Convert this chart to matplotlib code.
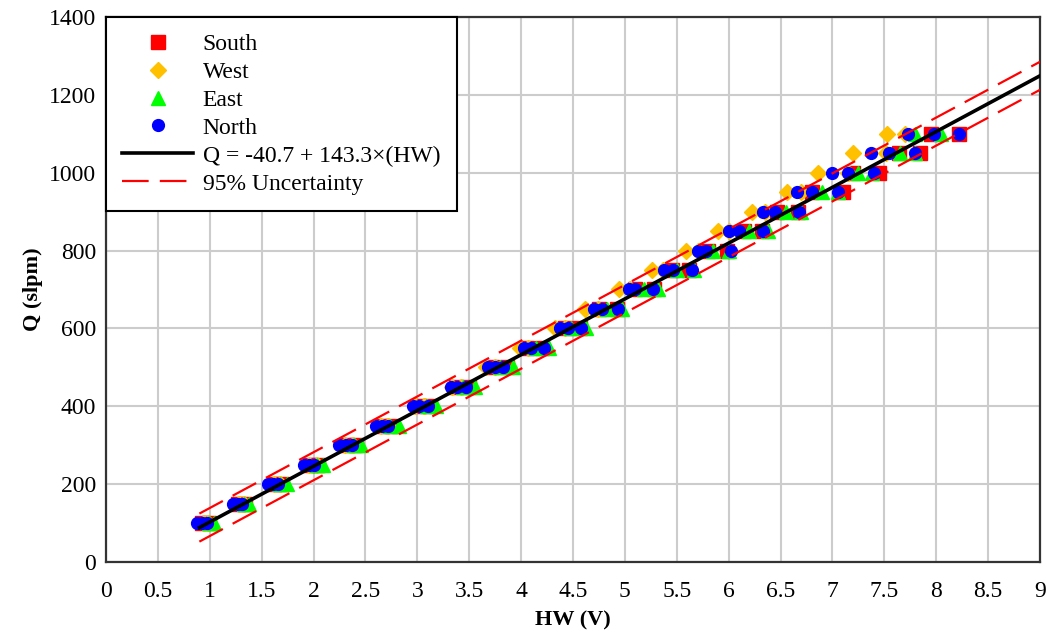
import numpy as np
import matplotlib.pyplot as plt

plt.rcParams['font.family'] = ['Liberation Serif', 'DejaVu Serif']

# flow levels (slpm)
q_levels = [100, 150, 200, 250, 300, 350, 400, 450, 500, 550, 600,
            650, 700, 750, 800, 850, 900, 950, 1000, 1050, 1100]

# hot-wire voltage readings per flow level, by location
hw_south = [[0.93, 0.99], [1.27, 1.34], [1.62, 1.70], [1.97, 2.04], [2.32, 2.41],
            [2.66, 2.76], [3.02, 3.12], [3.37, 3.50], [3.72, 3.86], [4.06, 4.20],
            [4.42, 4.57], [4.75, 4.92], [5.10, 5.28], [5.45, 5.62], [5.80, 5.98],
            [6.15, 6.32], [6.47, 6.67], [6.80, 7.10], [7.20, 7.45], [7.64, 7.84],
            [7.95, 8.22]]
hw_west = [[0.94, 0.98], [1.28, 1.33], [1.62, 1.68], [1.96, 2.03], [2.30, 2.38],
           [2.65, 2.72], [2.98, 3.06], [3.33, 3.42], [3.66, 3.75], [3.99, 4.07],
           [4.33, 4.42], [4.62, 4.74], [4.94, 5.05], [5.26, 5.37], [5.59, 5.70],
           [5.90, 6.00], [6.22, 6.35], [6.56, 6.70], [6.86, 7.15], [7.20, 7.52],
           [7.53, 7.70]]
hw_east = [[0.99, 1.04], [1.33, 1.38], [1.68, 1.74], [2.03, 2.09], [2.39, 2.46],
           [2.74, 2.82], [3.09, 3.18], [3.44, 3.56], [3.80, 3.92], [4.14, 4.27],
           [4.48, 4.63], [4.83, 4.97], [5.18, 5.32], [5.50, 5.67], [5.85, 6.00],
           [6.20, 6.38], [6.55, 6.70], [6.90, 7.05], [7.25, 7.38], [7.65, 7.80],
           [7.80, 8.05]]
hw_north = [[0.88, 0.93, 0.97], [1.22, 1.27, 1.31], [1.56, 1.61, 1.66], [1.91, 1.96, 2.00],
            [2.25, 2.31, 2.37], [2.60, 2.66, 2.72], [2.96, 3.02, 3.10], [3.32, 3.38, 3.47],
            [3.68, 3.75, 3.83], [4.03, 4.10, 4.22], [4.37, 4.45, 4.58], [4.70, 4.78, 4.93],
            [5.04, 5.10, 5.27], [5.38, 5.46, 5.65], [5.70, 5.78, 6.02], [6.00, 6.10, 6.33],
            [6.33, 6.45, 6.68], [6.66, 6.80, 7.05], [7.00, 7.15, 7.40], [7.37, 7.54, 7.80],
            [7.73, 7.98, 8.22]]

# fit and 95% band
b0, b1 = -40.7, 143.3
band = 36.0
hw_fit = np.array([0.9, 9.0])


def flatten(hw):
    xs, ys = [], []
    for q, vals in zip(q_levels, hw):
        for v in vals:
            xs.append(v)
            ys.append(q)
    return xs, ys


fig = plt.figure(figsize=(10.48, 6.34), dpi=100)
ax = fig.add_axes([0.1011, 0.1136, 0.8913, 0.8596])

x, y = flatten(hw_south)
ax.plot(x, y, 's', color='#ff0000', markersize=9.5, label='South', zorder=3)
x, y = flatten(hw_west)
ax.plot(x, y, 'D', color='#ffc000', markersize=8, label='West', zorder=3)
x, y = flatten(hw_east)
ax.plot(x, y, '^', color='#00ff00', markersize=9.5, label='East', zorder=3)
x, y = flatten(hw_north)
ax.plot(x, y, 'o', color='#0000ff', markersize=8.5, label='North', zorder=3)

q_fit = b0 + b1 * hw_fit
ax.plot(hw_fit, q_fit, color='black', lw=2.6, label='Q = -40.7 + 143.3\u00d7(HW)', zorder=4)
ax.plot(hw_fit, q_fit + band, color='#ff0000', lw=1.6, dashes=(12, 5),
        label='95% Uncertainty', zorder=4)
ax.plot(hw_fit, q_fit - band, color='#ff0000', lw=1.6, dashes=(12, 5), zorder=4)

ax.set_xlim(0, 9)
ax.set_ylim(0, 1400)
ax.set_xticks(np.arange(0, 9.01, 0.5))
ax.set_xticklabels(['0', '0.5', '1', '1.5', '2', '2.5', '3', '3.5', '4', '4.5',
                    '5', '5.5', '6', '6.5', '7', '7.5', '8', '8.5', '9'])
ax.set_yticks(np.arange(0, 1401, 200))
ax.tick_params(length=0, labelsize=17)
ax.tick_params(axis='x', pad=14)
ax.tick_params(axis='y', pad=7)
ax.grid(True, color='#cccccc', lw=1.5)
ax.set_axisbelow(True)
for s in ax.spines.values():
    s.set_color('#333333')
    s.set_linewidth(1.6)

ax.set_xlabel('HW (V)', fontsize=16, fontweight='bold', labelpad=6)
ax.set_ylabel('Q (slpm)', fontsize=16, fontweight='bold', labelpad=4)

leg = ax.legend(loc='upper left', bbox_to_anchor=(0, 1), borderaxespad=0,
                fontsize=17, fancybox=False, framealpha=1, edgecolor='black',
                handlelength=3.0, handletextpad=0.4, labelspacing=0.27,
                borderpad=0.7)
leg.get_frame().set_linewidth(1.5)

fig.savefig('out.png', dpi=100)
